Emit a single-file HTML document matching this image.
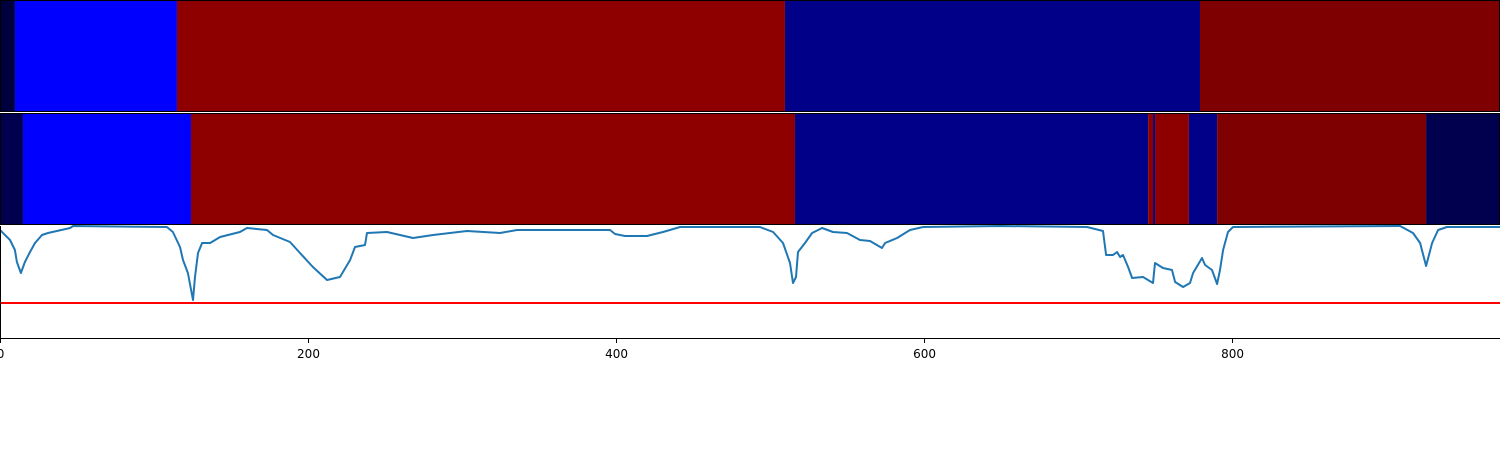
<!DOCTYPE html>
<html><head><meta charset="utf-8"><style>
html,body{margin:0;padding:0;background:#fff;width:1500px;height:450px;overflow:hidden}
svg{display:block;font-family:"DejaVu Sans","Liberation Sans",sans-serif}
</style></head><body>
<svg id="chart" width="1500" height="450" viewBox="0 0 1500 450"></svg>
<script>
const topBounds=[0,9.7,114.9,509.7,779.2,974];
const topStates=[0,1,2,3,4];
const midBounds=[0,14.9,124,516.2,745.5,748.7,750,772,790.3,926,974];
const midStates=[5,1,2,3,2,3,2,3,4,5];
const stateColors=["#00003f","#0000ff","#8e0000","#000088","#7f0000","#00004f"];
const lineX=[0,6.5,9.7,11,13.6,16.2,19.5,22.7,27.3,31.2,45.5,47.4,108.4,112.3,116.9,118.8,122,125.3,126.6,128.6,131.2,136.4,142.9,155.8,160.4,173.4,177.3,188.3,194.8,203.2,212.3,220.8,227.3,230.5,237,238.3,251.3,268.2,281.2,303.2,324.7,335.7,396.1,399.4,405.8,420.1,430.5,441.6,493.5,502,508.4,513,514.9,516.9,518.2,522.7,527.3,533.8,540.9,550,558.4,564.9,572.7,574.7,582.5,590.9,599.4,649.4,705.8,716.2,718.2,722.7,725.3,727.3,729.2,732.5,735.1,742.2,748.7,750,755.2,761,763,768.2,772.7,774.7,780.5,782.5,787,790.3,792.2,794.2,797.4,800.6,909.1,917.5,922.1,926,929.9,933.8,939.6,974];
const lineY=[108,98,88,76,65,76,86,95,103,105,110,112,111,106,91,78,65,38,61,85,95,95,101,106,110,108,103,96,85,71,58,61,78,91,93,105,106,100,103,107,105,108,108,104,102,102,106,111,111,106,95,75,55,61,86,95,105,110,106,105,98,97,90,95,100,108,111,112,111,107,83,83,86,81,83,71,60,61,55,75,70,68,56,51,55,65,80,73,68,54,68,88,106,111,112,105,95,72,95,108,111,111];
const thresh=[35];
const xTicks=[0,200,400,600,800];

const svg=document.getElementById('chart');
const NS='http://www.w3.org/2000/svg';
const X0=0,X1=1500,DMAX=974;
const xs=v=>X0+(v/DMAX)*(X1-X0);
const LT=226,LB=338,YMAX=112;
const ys=v=>LB-(v/YMAX)*(LB-LT);
function mk(t,a){const e=document.createElementNS(NS,t);for(const k in a)e.setAttribute(k,a[k]);svg.appendChild(e);return e;}

function band(bounds,states,y0,h,nm){
  for(let i=0;i<states.length;i++){
    const r=mk('rect',{x:xs(bounds[i]),y:y0,width:xs(bounds[i+1])-xs(bounds[i]),height:h,fill:stateColors[states[i]]});
    
    
  }
  const f=mk('rect',{x:0.5,y:y0+0.5,width:1499,height:h-1,fill:'none',stroke:'#000','stroke-width':1});
  
  
}
band(topBounds,topStates,0,112,'top-state-band');
band(midBounds,midStates,113,112,'middle-state-band');

const th=mk('line',{x1:0,x2:1500,y1:ys(thresh[0]),y2:ys(thresh[0]),stroke:'#ff0000','stroke-width':2});



let d='';
for(let i=0;i<lineX.length;i++)d+=(i?'L':'M')+xs(lineX[i]).toFixed(1)+','+ys(lineY[i]).toFixed(1);
const p=mk('path',{d:d,fill:'none',stroke:'#1f77b4','stroke-width':2,'stroke-linejoin':'round'});



const ax=mk('line',{x1:0,x2:1500,y1:338.5,y2:338.5,stroke:'#000','stroke-width':1});


const ly=mk('line',{x1:0.5,x2:0.5,y1:226,y2:338,stroke:'#000','stroke-width':1});


xTicks.forEach(t=>{
  const tk=mk('line',{x1:xs(t)+0.5,x2:xs(t)+0.5,y1:338,y2:343,stroke:'#000','stroke-width':1});
  
  
  const tx=mk('text',{x:xs(t)+0.5,y:358,'text-anchor':'middle','font-size':12,fill:'#000'});
  tx.textContent=t;
  
  
});
</script>
</body></html>
